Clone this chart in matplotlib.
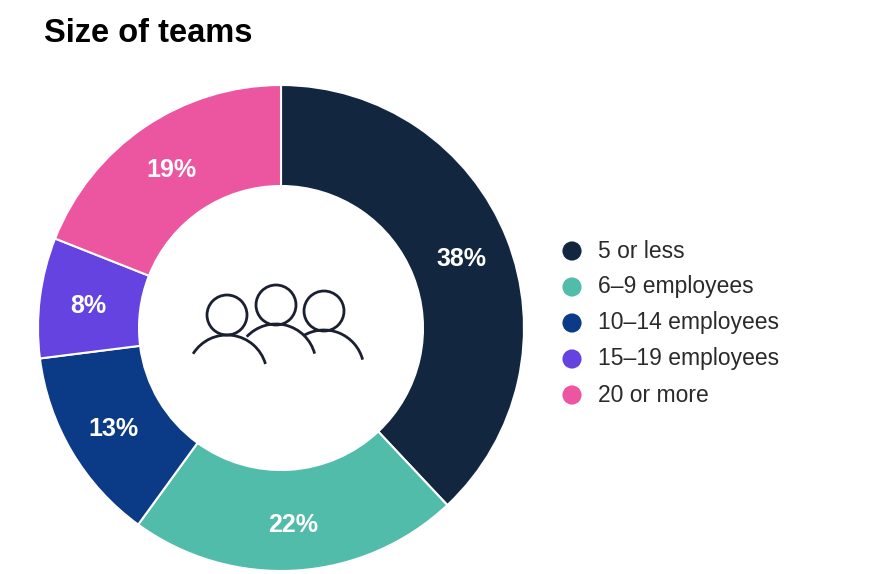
import matplotlib
matplotlib.use("Agg")
from matplotlib import pyplot as plt
from matplotlib.patches import Circle, Arc

plt.rcParams['font.family'] = ['Liberation Sans', 'DejaVu Sans']

# data
categories = ['5 or less', '6–9 employees', '10–14 employees', '15–19 employees', '20 or more']
shares = [38, 22, 13, 8, 19]
colors = ['#12263f', '#52bcab', '#0b3a86', '#6443e0', '#ec559f']
title = 'Size of teams'

W, H = 894, 574
fig = plt.figure(figsize=(W/100, H/100), dpi=100)
ax = fig.add_axes([0, 0, 1, 1])

def py(y):
    # pixel y (from top) -> axes y
    return H - y

cx, cy = 281, py(328)
R = 243
ring = 101

wedges, texts, pcts = ax.pie(shares, colors=colors, startangle=90, counterclock=False,
                             center=(cx, cy), radius=R,
                             wedgeprops=dict(width=ring, edgecolor='white', linewidth=1.5),
                             autopct='%.0f%%', pctdistance=0.8,
                             textprops=dict(color='white', fontsize=18, fontweight='bold'))
for t in pcts:
    t.set_va('center_baseline')

# people icon in the middle
ic = '#1b2030'
lw = 2.0
for hx, hy in [(227, 315), (276, 305), (324, 311)]:
    ax.add_patch(Circle((hx, py(hy)), 20, fill=False, edgecolor=ic, linewidth=lw))
for bx, by, a1, a2 in [(227, 375, 16, 148), (276, 364, 15, 137), (324, 370, 15, 121)]:
    ax.add_patch(Arc((bx, py(by)), 80, 80, theta1=a1, theta2=a2, edgecolor=ic, linewidth=lw))

# legend
ly0, dy = 251, 36
for i, (lab, c) in enumerate(zip(categories, colors)):
    y = py(ly0 + i*dy)
    ax.scatter([572], [y], s=190, color=c, edgecolors='none')
    ax.text(598, y, lab, fontsize=16.5, color='#2a2a2a', va='center', ha='left')

ax.text(44, py(30), title, fontsize=23.5, fontweight='bold', color='black', va='center_baseline', ha='left')

ax.set_xlim(0, W)
ax.set_ylim(0, H)
ax.set_aspect('equal')
ax.axis('off')

fig.savefig('out.png', dpi=100)
